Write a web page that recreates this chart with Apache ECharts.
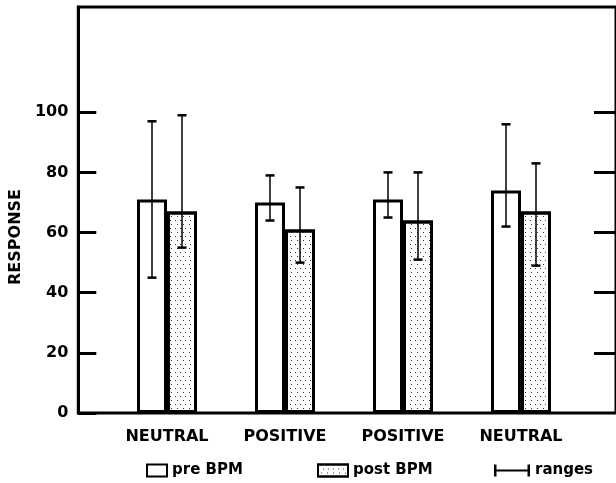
<!DOCTYPE html>
<html>
<head>
<meta charset="utf-8">
<script src="https://cdn.jsdelivr.net/npm/echarts@6/dist/echarts.min.js"></script>
<style>
  html, body { margin: 0; padding: 0; background: #fff; }
  #chart { width: 616px; height: 483px; }
</style>
</head>
<body>
<div id="chart"></div>
<script>
// data
const categories = ['NEUTRAL', 'POSITIVE', 'POSITIVE', 'NEUTRAL']
const preBPM = [71, 70, 71, 74]
const postBPM = [67, 61, 64, 67]
const preLow = [45, 64, 65, 62]
const preHigh = [97, 79, 80, 96]
const postLow = [55, 50, 51, 49]
const postHigh = [99, 75, 80, 83]
const yLabels = [0, 20, 40, 60, 80, 100]
const rightTicks = [20, 40, 60, 80, 100]

const font = 'DejaVu Sans'
const barW = 30

// stipple used for the post BPM bars
const dots = {
  symbol: 'rect',
  symbolSize: 1,
  color: '#333',
  dashArrayX: [[1, 4], [0, 2.5, 1, 1.5]],
  dashArrayY: [1, 2.5],
  rotation: 0
}

// error bar rows: [category index, low, high, series (0 = pre, 1 = post)]
const ranges = []
categories.forEach(function (c, i) {
  ranges.push([i, preLow[i], preHigh[i], 0])
  ranges.push([i, postLow[i], postHigh[i], 1])
})

const chart = echarts.init(document.getElementById('chart'))

const legendText = { color: '#000', fontFamily: font, fontWeight: 'bold', fontSize: 15 }

const option = {
  animation: false,
  grid: [
    // frame grid (box + ticks)
    { left: 78, right: -6, top: 7, bottom: 70, show: true, borderColor: '#000', borderWidth: 3, backgroundColor: 'transparent' },
    // bar grid
    { left: 108, width: 472, top: 7, bottom: 70 }
  ],
  xAxis: [
    { gridIndex: 0, type: 'value', show: false, min: 0, max: 1 },
    {
      gridIndex: 1,
      type: 'category',
      data: categories,
      axisLine: { show: false },
      axisTick: { show: false },
      axisLabel: { color: '#000', fontFamily: font, fontWeight: 'bold', fontSize: 16, margin: 16 }
    }
  ],
  yAxis: [
    {
      gridIndex: 0,
      type: 'value',
      min: 0,
      max: 135,
      name: 'RESPONSE',
      nameLocation: 'middle',
      nameRotate: 90,
      nameGap: 48,
      nameTextStyle: { color: '#000', fontFamily: font, fontWeight: 'bold', fontSize: 16, padding: [0, 54, 0, 0] },
      axisLine: { show: true, lineStyle: { color: '#000', width: 3 } },
      axisTick: { show: true, inside: true, length: 18, customValues: yLabels, lineStyle: { color: '#000', width: 3 } },
      axisLabel: { customValues: yLabels, color: '#000', fontFamily: font, fontWeight: 'bold', fontSize: 16, margin: 10 },
      splitLine: { show: false }
    },
    {
      gridIndex: 0,
      type: 'value',
      position: 'right',
      min: 0,
      max: 135,
      axisLine: { show: false },
      axisTick: { show: true, inside: true, length: 22, customValues: rightTicks, lineStyle: { color: '#000', width: 3 } },
      axisLabel: { show: false },
      splitLine: { show: false }
    },
    { gridIndex: 1, type: 'value', min: 0, max: 135, show: false }
  ],
  legend: [
    {
      data: ['pre BPM'],
      left: 141, top: 458,
      itemWidth: 20, itemHeight: 12,
      selectedMode: false,
      icon: 'rect',
      itemStyle: { color: '#fff', borderColor: '#000', borderWidth: 2 },
      textStyle: legendText
    },
    {
      data: ['post BPM'],
      left: 312, top: 458,
      itemWidth: 30, itemHeight: 12,
      selectedMode: false,
      icon: 'rect',
      itemStyle: { color: '#fff', borderColor: '#000', borderWidth: 2, decal: dots },
      textStyle: legendText
    },
    {
      data: ['ranges'],
      left: 489, top: 458,
      itemWidth: 36, itemHeight: 12,
      selectedMode: false,
      icon: 'path://M0,0h2.5v5h31v-5h2.5v12h-2.5v-5h-31v5h-2.5z',
      itemStyle: { color: '#000', borderWidth: 0 },
      textStyle: legendText
    }
  ],
  series: [
    {
      name: 'pre BPM',
      type: 'bar',
      xAxisIndex: 1,
      yAxisIndex: 2,
      data: preBPM,
      barWidth: barW,
      barGap: '0%',
      itemStyle: { color: '#fff', borderColor: '#000', borderWidth: 3 }
    },
    {
      name: 'post BPM',
      type: 'bar',
      xAxisIndex: 1,
      yAxisIndex: 2,
      data: postBPM,
      barWidth: barW,
      barGap: '0%',
      itemStyle: { color: '#fff', borderColor: '#000', borderWidth: 3, decal: dots }
    },
    {
      name: 'ranges',
      type: 'custom',
      xAxisIndex: 1,
      yAxisIndex: 2,
      data: ranges,
      itemStyle: { color: '#000' },
      z: 5,
      renderItem: function (params, api) {
        const i = api.value(0)
        const off = api.value(3) === 0 ? -barW / 2 : barW / 2
        const top = api.coord([i, api.value(2)])
        const bot = api.coord([i, api.value(1)])
        const x = top[0] + off
        const cap = 4.5
        return {
          type: 'group',
          children: [
            { type: 'line', shape: { x1: x, y1: top[1], x2: x, y2: bot[1] }, style: { stroke: '#000', lineWidth: 1.5 } },
            { type: 'line', shape: { x1: x - cap, y1: top[1], x2: x + cap, y2: top[1] }, style: { stroke: '#000', lineWidth: 2.5 } },
            { type: 'line', shape: { x1: x - cap, y1: bot[1], x2: x + cap, y2: bot[1] }, style: { stroke: '#000', lineWidth: 2.5 } }
          ]
        }
      }
    }
  ]
}

chart.setOption(option)
</script>
</body>
</html>
